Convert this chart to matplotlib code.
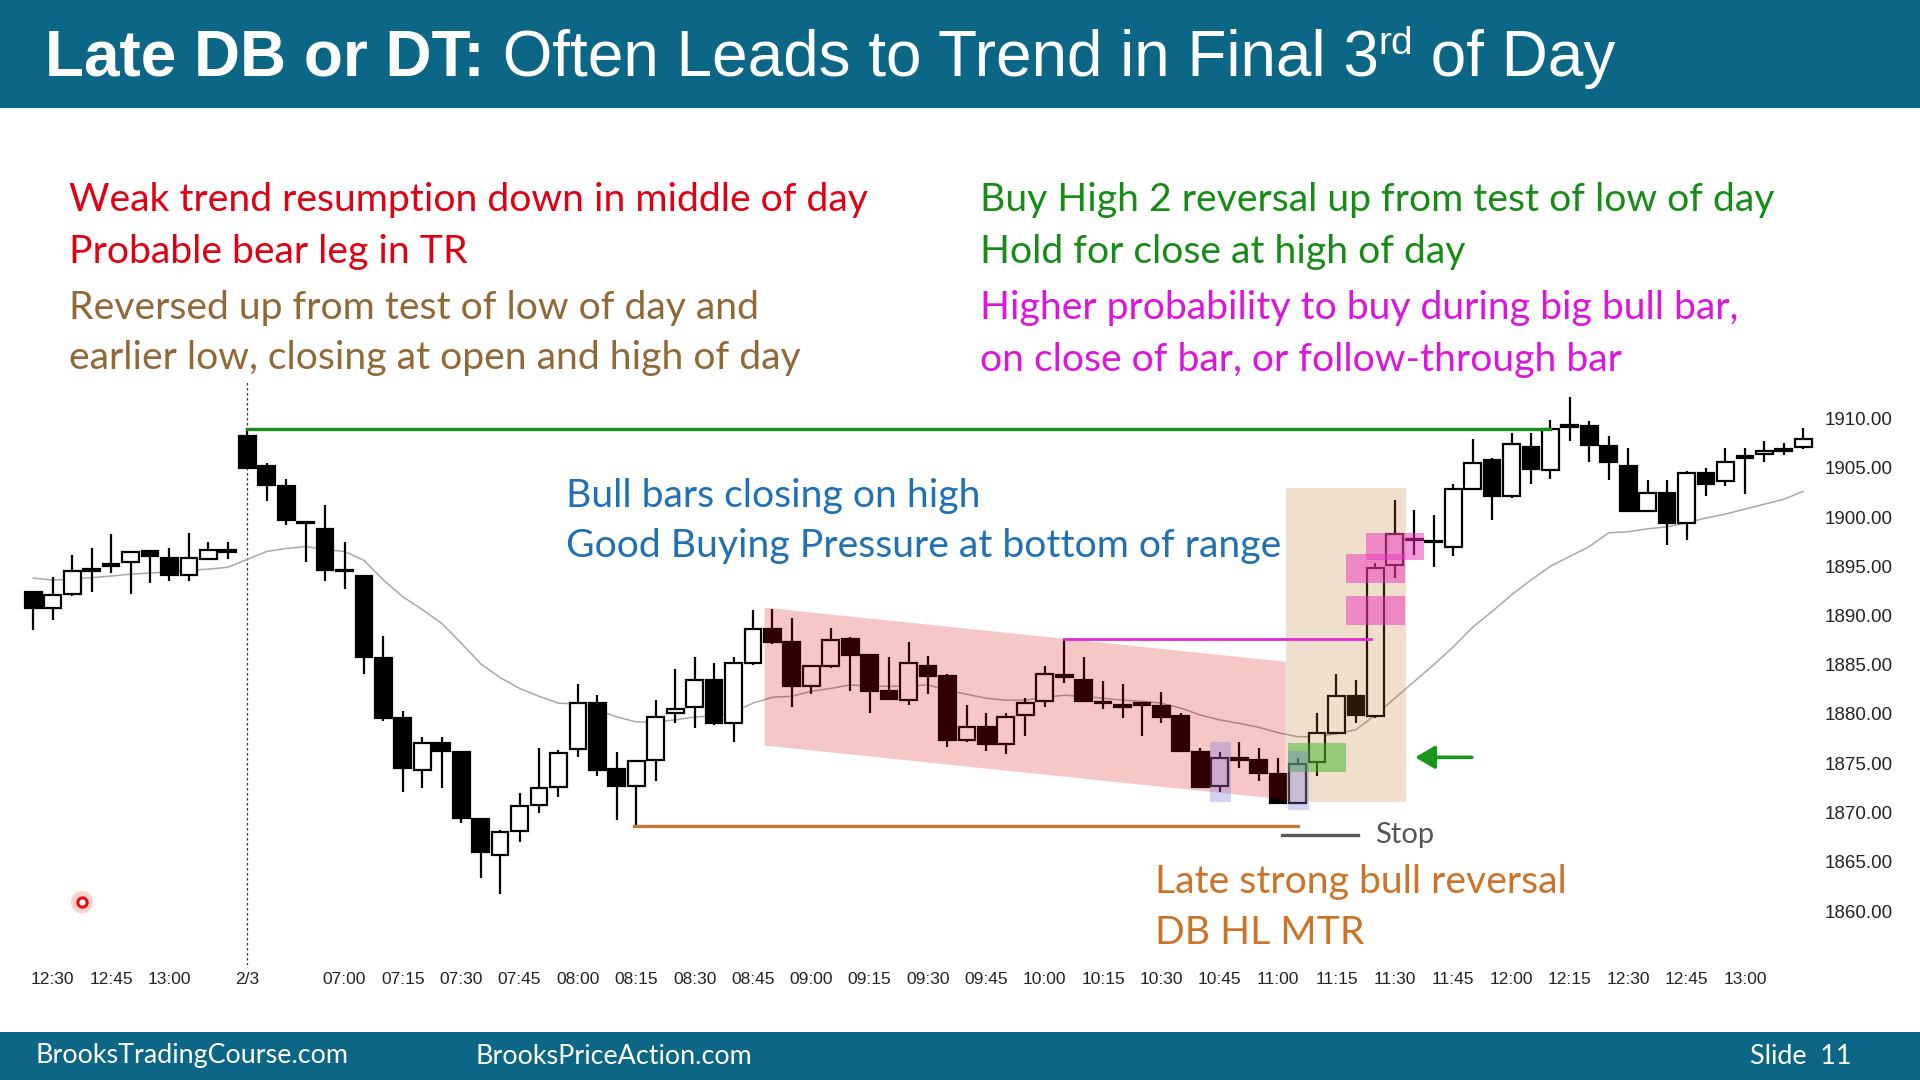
import matplotlib
matplotlib.use("Agg")
import matplotlib.pyplot as plt
from matplotlib.patches import Rectangle, Polygon, FancyArrowPatch

# ---------------- data ----------------
opens = [1892.4, 1890.8, 1892.2, 1894.7, 1895.2, 1895.4, 1896.5, 1895.8, 1894.1, 1895.7, 1896.6,
         1908.2, 1905.2, 1903.1, 1899.5, 1898.8, 1894.6, 1894.0, 1885.7, 1879.6, 1874.3,
         1877.1, 1876.1, 1869.35, 1865.7, 1868.1, 1870.8, 1872.6, 1876.4, 1881.15, 1874.4,
         1872.7, 1875.3, 1880.1, 1880.7, 1883.5, 1879.05, 1885.15, 1888.6, 1887.3, 1882.85,
         1884.9, 1887.6, 1886.0, 1882.3, 1881.4, 1884.9, 1883.9, 1877.4, 1878.7, 1877.0,
         1879.9, 1881.3, 1883.9, 1883.5, 1881.2, 1880.85, 1881.05, 1880.8, 1879.8, 1876.1,
         1872.7, 1875.45, 1875.3, 1873.9, 1871.0, 1875.1, 1878.05, 1881.8, 1879.8, 1895.1,
         1897.8, 1897.6, 1897.0, 1902.85, 1905.8, 1902.1, 1907.1, 1904.8, 1909.3, 1909.25,
         1907.2, 1905.2, 1900.65, 1902.4, 1899.4, 1904.45, 1903.7, 1906.15, 1906.4, 1906.85,
         1907.1]
highs = [1892.4, 1893.9, 1896.1, 1896.9, 1898.3, 1896.4, 1896.7, 1896.9, 1898.35, 1897.5, 1897.5,
         1908.9, 1905.5, 1903.9, 1899.5, 1901.2, 1897.5, 1894.0, 1887.9, 1880.3, 1877.7,
         1877.7, 1876.1, 1869.4, 1868.2, 1872.0, 1876.5, 1876.35, 1883.05, 1881.9, 1876.1,
         1875.2, 1881.4, 1884.6, 1885.8, 1885.2, 1885.8, 1890.6, 1890.7, 1889.7, 1884.9,
         1888.7, 1887.85, 1886.0, 1885.8, 1887.3, 1885.9, 1884.1, 1880.9, 1880.1, 1880.1,
         1881.6, 1884.9, 1887.6, 1885.8, 1883.3, 1883.05, 1881.1, 1882.2, 1880.1, 1876.5,
         1876.1, 1877.2, 1876.5, 1875.5, 1875.5, 1880.1, 1884.1, 1883.5, 1895.3, 1901.7,
         1900.7, 1900.2, 1903.3, 1907.9, 1906.0, 1908.5, 1908.5, 1909.8, 1912.2, 1909.7,
         1908.2, 1907.0, 1903.8, 1903.8, 1904.7, 1904.95, 1907.0, 1907.0, 1907.75, 1907.5,
         1909.0]
lows = [1888.5, 1889.5, 1892.0, 1892.4, 1894.3, 1892.2, 1893.3, 1893.5, 1893.5, 1895.6, 1895.7,
        1905.0, 1901.6, 1899.2, 1895.4, 1893.5, 1892.7, 1884.1, 1879.3, 1872.1, 1872.5,
        1872.5, 1868.9, 1863.3, 1861.7, 1867.05, 1870.0, 1871.6, 1875.6, 1873.7, 1869.2,
        1868.6, 1873.2, 1879.05, 1878.55, 1878.9, 1877.2, 1885.0, 1887.1, 1880.7, 1882.05,
        1884.65, 1882.3, 1880.1, 1881.5, 1880.9, 1882.05, 1876.6, 1877.2, 1876.2, 1875.9,
        1877.8, 1880.75, 1883.1, 1881.3, 1880.5, 1879.6, 1877.8, 1879.05, 1876.2, 1872.5,
        1872.1, 1874.5, 1873.2, 1871.0, 1871.0, 1873.7, 1878.0, 1879.05, 1879.6, 1893.8,
        1896.15, 1894.9, 1896.0, 1902.7, 1899.7, 1901.9, 1903.4, 1903.9, 1907.75, 1905.6,
        1903.8, 1900.65, 1900.6, 1897.2, 1897.7, 1902.1, 1903.1, 1902.3, 1905.6, 1906.3,
        1906.9]
closes = [1890.8, 1892.1, 1894.5, 1894.5, 1895.1, 1896.4, 1896.0, 1894.1, 1895.8, 1896.6, 1896.4,
          1905.0, 1903.2, 1899.7, 1899.4, 1894.6, 1894.5, 1885.8, 1879.6, 1874.5, 1877.1,
          1876.2, 1869.4, 1866.0, 1868.0, 1870.7, 1872.5, 1876.0, 1881.1, 1874.3, 1872.7,
          1875.2, 1879.7, 1880.5, 1883.5, 1879.05, 1885.2, 1888.6, 1887.35, 1882.8, 1884.9,
          1887.5, 1886.0, 1882.3, 1881.5, 1885.15, 1883.9, 1877.4, 1878.65, 1877.0, 1879.7,
          1881.1, 1884.1, 1883.8, 1881.3, 1881.1, 1880.8, 1881.0, 1879.7, 1876.2, 1872.6,
          1875.5, 1875.4, 1874.05, 1871.0, 1874.9, 1878.1, 1881.8, 1879.9, 1894.8, 1898.3,
          1897.65, 1897.45, 1902.8, 1905.5, 1902.1, 1907.4, 1904.85, 1908.9, 1909.2, 1907.3,
          1905.6, 1900.65, 1902.4, 1899.4, 1904.5, 1903.4, 1905.6, 1906.05, 1906.7, 1906.8,
          1907.9]
ema = [1893.8, 1893.6, 1893.7, 1893.85, 1894.0, 1894.2, 1894.3, 1894.45, 1894.6, 1894.7, 1894.9,
       1895.7, 1896.5, 1896.8, 1897.0, 1896.7, 1896.5, 1895.6, 1893.6, 1891.9, 1890.6,
       1889.2, 1887.2, 1885.1, 1883.7, 1882.6, 1881.8, 1881.1, 1881.0, 1880.4, 1879.7,
       1879.2, 1879.2, 1879.4, 1879.7, 1879.8, 1880.2, 1881.1, 1881.7, 1881.8, 1882.3,
       1882.6, 1882.95, 1882.85, 1882.8, 1882.85, 1882.95, 1882.4, 1882.0, 1881.6, 1881.4,
       1881.4, 1881.7, 1881.9, 1881.8, 1881.6, 1881.4, 1881.3, 1881.1, 1880.6, 1879.9,
       1879.4, 1879.05, 1878.65, 1878.1, 1877.7, 1877.7, 1878.0, 1878.4, 1879.9, 1881.6,
       1883.3, 1885.0, 1886.8, 1888.8, 1890.4, 1892.1, 1893.6, 1895.0, 1896.0, 1897.0,
       1898.4, 1898.5, 1898.8, 1899.0, 1899.4, 1899.9, 1900.3, 1900.8, 1901.3, 1901.8,
       1902.6]
xtick_pos = [1, 4, 7, 11] + list(range(16, 89, 3))
xtick_labels = ["12:30", "12:45", "13:00", "2/3",
                "07:00", "07:15", "07:30", "07:45", "08:00", "08:15", "08:30", "08:45",
                "09:00", "09:15", "09:30", "09:45", "10:00", "10:15", "10:30", "10:45",
                "11:00", "11:15", "11:30", "11:45", "12:00", "12:15", "12:30", "12:45", "13:00"]
ytick_vals = [1860, 1865, 1870, 1875, 1880, 1885, 1890, 1895, 1900, 1905, 1910]

# annotation levels
day_open_bar, day_high, day_high_end = 11, 1908.9, 78
orange_level, orange_start, orange_end = 1868.6, 30.9, 65.0
magenta_level, magenta_start, magenta_end = 1887.6, 53, 68.8
stop_level, stop_start, stop_end = 1867.7, 64.2, 68.1

W, H = 1920, 1080
fig = plt.figure(figsize=(19.2, 10.8), dpi=100)
fig.patch.set_facecolor("white")

def fx(px):
    return px / W

def fy(py):
    return 1 - py / H

HEAD = "#0b6785"
fig.patches.append(Rectangle((0, fy(108)), 1, 108 / H, transform=fig.transFigure,
                             facecolor=HEAD, edgecolor="none", zorder=0))
fig.patches.append(Rectangle((0, 0), 1, 48 / H, transform=fig.transFigure,
                             facecolor=HEAD, edgecolor="none", zorder=0))

# ---------------- axes ----------------
x0px, x1px, ytop, ybot = 10, 1820, 380, 965
ax = fig.add_axes([fx(x0px), fy(ybot), fx(x1px) - fx(x0px), fy(ytop) - fy(ybot)])
ax.set_xlim((x0px - 33.3) / 19.45, (x1px - 33.3) / 19.45)
ax.set_ylim(1910 - (ybot - 418.5) / 9.85, 1910 + (418.5 - ytop) / 9.85)
ax.patch.set_alpha(0)
for s in ax.spines.values():
    s.set_visible(False)
ax.yaxis.tick_right()
ax.set_yticks(ytick_vals)
ax.set_yticklabels([f"{v:.2f}" for v in ytick_vals], fontfamily="Liberation Sans",
                   fontsize=13.5, color="#222222")
ax.tick_params(axis="y", length=0, pad=3)
ax.set_xticks(xtick_pos)
ax.set_xticklabels(xtick_labels, fontfamily=["Liberation Sans Narrow", "Liberation Sans"],
                   fontsize=12.5, color="#222222")
ax.tick_params(axis="x", length=0, pad=5)

# overlays below candles
ax.axvline(day_open_bar, color="#333333", lw=0.9, ls=(0, (2, 2)), zorder=1)
ax.plot(range(len(ema)), ema, color="#a8a8a8", lw=1.1, zorder=2)

# candles
bw = 0.86
for i, (o, h, l, c) in enumerate(zip(opens, highs, lows, closes)):
    ax.plot([i, i], [l, h], color="black", lw=1.6, zorder=3, solid_capstyle="butt")
    lo, hi = min(o, c), max(o, c)
    if hi - lo < 0.15:
        lo, hi = (lo + hi) / 2 - 0.075, (lo + hi) / 2 + 0.075
    fc = "black" if c < o else "white"
    ax.add_patch(Rectangle((i - bw / 2, lo), bw, hi - lo, facecolor=fc, edgecolor="black",
                           lw=1.6, zorder=4))

# shaded regions on top
ax.add_patch(Polygon([(37.6, 1890.8), (64.4, 1885.3), (64.4, 1871.3), (37.6, 1876.8)],
                     closed=True, facecolor=(0.855, 0.0, 0.0), alpha=0.22, edgecolor="none", zorder=5))
ax.add_patch(Rectangle((64.4, 1871.05), 6.2, 31.85, facecolor=(0.75, 0.43, 0.12), alpha=0.22,
                       edgecolor="none", zorder=5))
ax.add_patch(Rectangle((64.5, 1874.15), 3.0, 2.95, facecolor=(0.24, 0.72, 0.16), alpha=0.5,
                       edgecolor="none", zorder=6))
for (xa, xb, ya, yb) in [(60.5, 61.56, 1871.1, 1877.2), (64.5, 65.6, 1870.3, 1876.2)]:
    ax.add_patch(Rectangle((xa, ya), xb - xa, yb - ya, facecolor=(0.45, 0.45, 0.85), alpha=0.32,
                           edgecolor="none", zorder=6))
for (xa, xb, ya, yb) in [(67.5, 70.5, 1889.05, 1892.0), (67.5, 70.5, 1893.3, 1896.25),
                         (68.5, 71.5, 1895.6, 1898.4)]:
    ax.add_patch(Rectangle((xa, ya), xb - xa, yb - ya, facecolor=(0.92, 0.2, 0.75), alpha=0.5,
                           edgecolor="none", zorder=6))

# lines
ax.plot([day_open_bar, day_high_end], [day_high, day_high], color="#1a8c1a", lw=2.4, zorder=7)
ax.plot([orange_start, orange_end], [orange_level, orange_level], color="#c47a36", lw=2.4, zorder=7)
ax.plot([magenta_start, magenta_end], [magenta_level, magenta_level], color="#e02ad0", lw=2.0, zorder=7)
ax.plot([stop_start, stop_end], [stop_level, stop_level], color="#5a5a5a", lw=2.4, zorder=7)
ax.text(69.0, stop_level, "Stop", fontfamily="Lato", fontsize=21, color="#555555",
        va="center", ha="left", zorder=8)
ax.add_patch(FancyArrowPatch((74.1, 1875.6), (70.9, 1875.6), arrowstyle="-|>,head_length=0.6,head_width=0.35",
                             mutation_scale=20, color="#1a961a", lw=2.6, zorder=8))
ax.scatter([2.5], [1860.9], s=260, color=(1.0, 0.3, 0.3), alpha=0.25, edgecolor="none", zorder=8)
ax.scatter([2.5], [1860.9], s=45, facecolor="white", edgecolor="#e01010", lw=2.2, zorder=9)

# ---------------- texts ----------------
BODY = "Lato"
fs = 28.2
def t(x, y, s, color, size=fs):
    fig.text(fx(x), fy(y + 2.5), s, color=color, fontsize=size, fontfamily=BODY, ha="left", va="center")

t(69, 198, "Weak trend resumption down in middle of day", "#e00014")
t(69, 249, "Probable bear leg in TR", "#e00014")
t(69, 305, "Reversed up from test of low of day and", "#916937")
t(69, 356, "earlier low, closing at open and high of day", "#916937")
t(980, 198, "Buy High 2 reversal up from test of low of day", "#168c16")
t(980, 249, "Hold for close at high of day", "#168c16")
t(980, 306, "Higher probability to buy during big bull bar,", "#dc14dc")
t(980, 357, "on close of bar, or follow-through bar", "#dc14dc")
t(566, 493, "Bull bars closing on high", "#1f70b4")
t(566, 544, "Good Buying Pressure at bottom of range", "#1f70b4")
t(1155, 880, "Late strong bull reversal", "#cd7328")
t(1155, 931, "DB HL MTR", "#cd7328")

# footer
for xx, s, ha in [(36, "BrooksTradingCourse.com", "left"), (475, "BrooksPriceAction.com", "left"),
                  (1851, "Slide  11", "right")]:
    fig.text(fx(xx), fy(1056), s, color="white", fontsize=19.4, fontfamily=BODY, ha=ha, va="center")

# title pieces laid out sequentially
renderer = fig.canvas.get_renderer()
TF = "Liberation Sans"
tsize = 46
pieces = [("Late DB or DT:", "bold", tsize, 76), (" Often Leads to Trend in Final 3", "normal", tsize, 76),
          ("rd", "normal", 28, 54), (" of Day", "normal", tsize, 76)]
xcur = 45
for s, wgt, sz, base in pieces:
    tt = fig.text(fx(xcur), fy(base), s, color="white", fontsize=sz, fontfamily=TF, fontweight=wgt,
                  ha="left", va="baseline")
    bb = tt.get_window_extent(renderer)
    xcur += bb.width

fig.savefig("out.png", dpi=100, facecolor="white")
